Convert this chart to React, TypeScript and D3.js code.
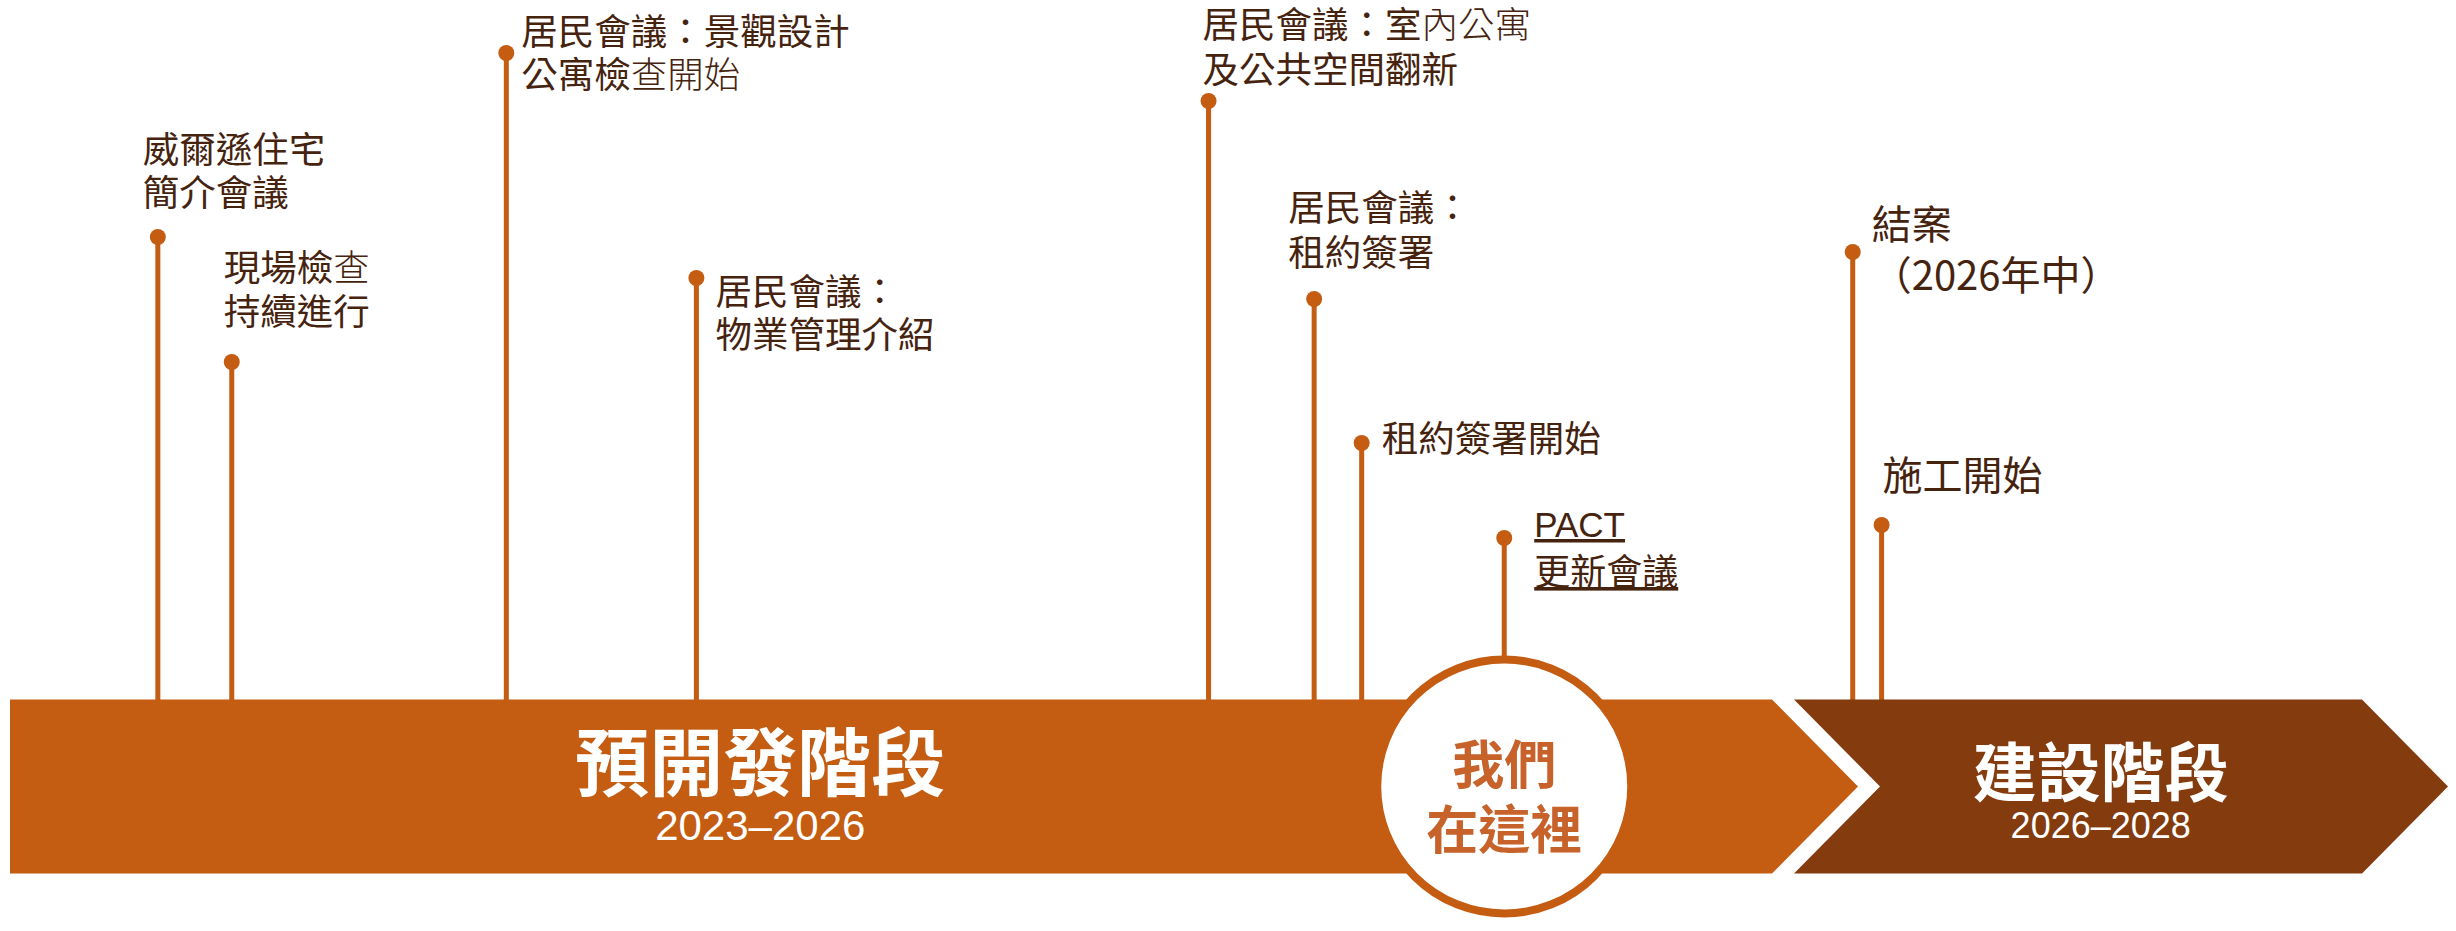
import * as d3 from "d3";
import { useEffect } from "react";

// timeline events (time in fractional years), text lines; {…} = light weight run
const eventTimes = [2023.28, 2023.42, 2023.94, 2024.3, 2025.27, 2025.47, 2025.56, 2025.83, 2026.49, 2026.56];
const eventLabels = [
  ["威爾遜住宅", "簡介會議"],
  ["現場檢{查}", "持續進行"],
  ["居民會議：景觀設計", "公寓檢{查開始}"],
  ["居民會議：", "物業管理介紹"],
  ["居民會議：室{內公寓}", "及公共空間翻新"],
  ["居民會議：", "租約簽署"],
  ["租約簽署開始"],
  ["PACT", "更新會議"],
  ["結案", "（2026年中）"],
  ["施工開始"],
];
const currentEvent = 7; // PACT 更新會議
const currentLabel = ["我們", "在這裡"];

const phaseNames = ["預開發階段", "建設階段"];
const phaseYears = ["2023–2026", "2026–2028"];
const phaseStart = [2023, 2026.5];
const phaseEnd = [2026.5, 2028];

// layout (pixels) – not data
const W = 2456;
const H = 931;
const barTop = 699.5;
const barBottom = 873.5;
const arrowDepth = 86;
const phaseGap = 22;
const dotY = [237, 362, 53, 278, 101, 299, 443, 538, 252, 525];
const labelDx = [-15, -8, 15, 19, -6, -26, 20, 30, 19, 1];
const labelDy = [-74.5, -81.5, -8.5, 26.5, -63.5, -78, 9, -1, -13, -35];
const labelSize = [36.5, 36.5, 36.5, 36.5, 36.5, 36.5, 36.5, 36, 40, 40];
const labelGap = [43, 44, 43.5, 43.5, 45.5, 45, 0, 48, 51, 0];
const titleCenter = [0.406, 0.469];
const titleSize = [74, 64];
const yearSize = [42, 36];

const ORANGE = "#c45c12";
const BROWN = "#843b0e";
const TEXT = "#45230f";
const HERE = "#c7622b";
const CJK = "'Noto Sans CJK TC', 'Noto Sans CJK SC', sans-serif";
const LATIN = "'Liberation Sans', Arial, sans-serif";

function runs(line: string) {
  const out: { t: string; light: boolean }[] = [];
  const re = /\{([^}]*)\}|([^{]+)/g;
  let m: RegExpExecArray | null;
  while ((m = re.exec(line))) {
    if (m[1] !== undefined) out.push({ t: m[1], light: true });
    else out.push({ t: m[2], light: false });
  }
  return out;
}

export default function App() {
  useEffect(() => {
    document.body.style.margin = "0";
  }, []);

  const x = d3
    .scaleLinear()
    .domain([2023, 2026.5, 2028])
    .range([10, 1858, 2448]);

  const mid = (barTop + barBottom) / 2;
  const line = d3.line<[number, number]>();

  const phasePaths = phaseStart.map((s, i) => {
    const x0 = i === 0 ? x(s) : x(s) - arrowDepth + phaseGap;
    const x1 = x(phaseEnd[i]);
    const pts: [number, number][] = [
      [x0, barTop],
      [x1 - arrowDepth, barTop],
      [x1, mid],
      [x1 - arrowDepth, barBottom],
      [x0, barBottom],
    ];
    if (i > 0) pts.push([x0 + arrowDepth, mid]);
    return { d: line(pts) + "Z", x0, x1 };
  });

  const hereX = x(eventTimes[currentEvent]);
  const hereR = 127;

  return (
    <svg
      width={W}
      height={H}
      viewBox={`0 0 ${W} ${H}`}
      style={{ display: "block", background: "#fff" }}
    >
      {/* stems */}
      {eventTimes.map((t, i) => (
        <line
          key={"s" + i}
          x1={x(t)}
          x2={x(t)}
          y1={dotY[i]}
          y2={i === currentEvent ? mid - hereR : barTop + 1}
          stroke={ORANGE}
          strokeWidth={5}
        />
      ))}
      {eventTimes.map((t, i) => (
        <circle key={"d" + i} cx={x(t)} cy={dotY[i]} r={8} fill={ORANGE} />
      ))}

      {/* phase arrows */}
      {phasePaths.map((p, i) => (
        <path key={"p" + i} d={p.d} fill={i === 0 ? ORANGE : BROWN} />
      ))}

      {/* we are here */}
      <circle cx={hereX} cy={mid} r={hereR} fill="#fff" stroke={ORANGE} strokeWidth={8} />
      {currentLabel.map((t, i) => (
        <text
          key={"h" + i}
          x={hereX}
          y={783.5 + i * 65}
          textAnchor="middle"
          fontFamily={CJK}
          fontWeight={700}
          fontSize={52}
          fill={HERE}
        >
          {t}
        </text>
      ))}

      {/* phase titles */}
      {phasePaths.map((p, i) => {
        const cx = p.x0 + (p.x1 - p.x0) * titleCenter[i];
        return (
          <g key={"t" + i}>
            <text
              x={cx}
              y={i === 0 ? 790 : 795.5}
              textAnchor="middle"
              fontFamily={CJK}
              fontWeight={700}
              fontSize={titleSize[i]}
              fill="#fff"
            >
              {phaseNames[i]}
            </text>
            <text
              x={cx}
              y={i === 0 ? 840 : 838}
              textAnchor="middle"
              fontFamily={LATIN}
              fontSize={yearSize[i]}
              fill="#fff"
            >
              {phaseYears[i]}
            </text>
          </g>
        );
      })}

      {/* event labels */}
      {eventLabels.map((lines, i) => (
        <g key={"l" + i}>
          {lines.map((ln, j) => {
            const ascii = /^[\x20-\x7e]+$/.test(ln);
            return (
              <text
                key={j}
                x={x(eventTimes[i]) + labelDx[i]}
                y={dotY[i] + labelDy[i] + j * labelGap[i]}
                fontFamily={ascii ? LATIN : CJK}
                fontSize={ascii ? 35 : labelSize[i]}
                fill={TEXT}
                textDecoration={i === currentEvent ? "underline" : undefined}
              >
                {runs(ln).map((r, k) => (
                  <tspan key={k} fontWeight={r.light ? 300 : 400}>
                    {r.t}
                  </tspan>
                ))}
              </text>
            );
          })}
        </g>
      ))}
    </svg>
  );
}
